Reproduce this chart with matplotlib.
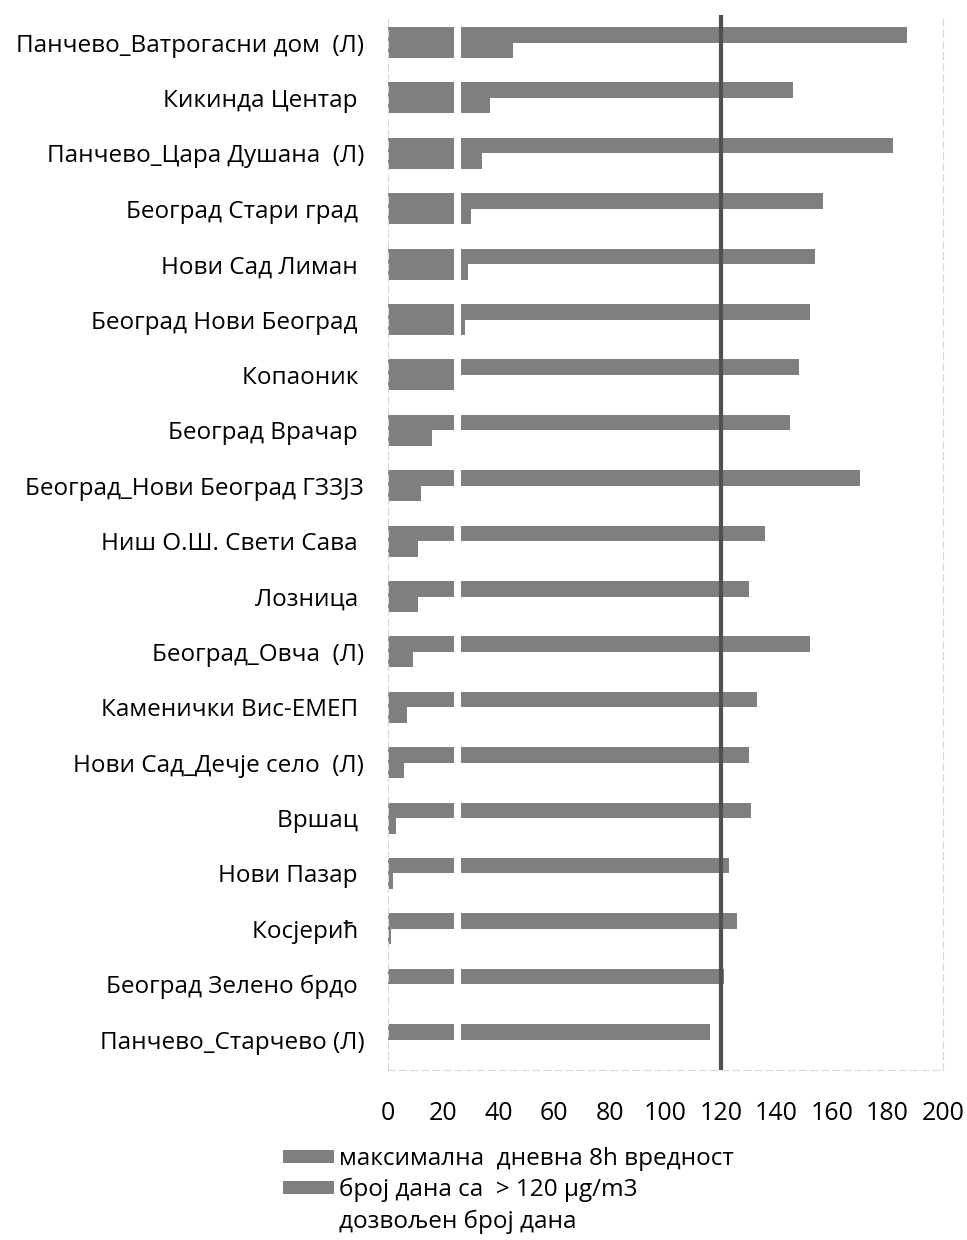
import numpy as np
import matplotlib.pyplot as plt
from matplotlib.lines import Line2D

stations = ['Панчево_Ватрогасни дом  (Л)', 'Кикинда Центар ', 'Панчево_Цара Душана  (Л)',
            'Београд Стари град ', 'Нови Сад Лиман ', 'Београд Нови Београд ',
            'Копаоник ', 'Београд Врачар ', 'Београд_Нови Београд ГЗЗЈЗ',
            'Ниш О.Ш. Свети Сава ', 'Лозница ', 'Београд_Овча  (Л)',
            'Каменички Вис-ЕМЕП ', 'Нови Сад_Дечје село  (Л)', 'Вршац ',
            'Нови Пазар ', 'Косјерић ', 'Београд Зелено брдо ', 'Панчево_Старчево (Л)']
max_8h = [187, 146, 182, 157, 154, 152, 148, 145, 170, 136, 130, 152, 133, 130, 131, 123, 126, 121, 116]
days_over = [45, 37, 34, 30, 29, 28, 25, 16, 12, 11, 11, 9, 7, 6, 3, 2, 1, 0, 0]
limit_value = 120
allowed_days = 25
xticks = list(range(0, 201, 20))

plt.rcParams['font.family'] = ['Open Sans', 'DejaVu Sans']

fig = plt.figure(figsize=(9.67, 12.4), dpi=100)
ax = fig.add_axes([0.401, 0.137, 0.574, 0.851])

y = np.arange(len(stations))
h = 0.28
ax.barh(y - h / 2, max_8h, height=h, color='#7f7f7f', edgecolor='none',
        label='максимална  дневна 8h вредност')
ax.barh(y + h / 2, days_over, height=h, color='#7f7f7f', edgecolor='none',
        label='број дана са  > 120 µg/m3')
ax.axvline(allowed_days, color='white', lw=5, zorder=3)
ax.axvline(limit_value, color='#505050', lw=3, zorder=4)

ax.set_ylim(len(stations) - 0.45, -0.5)
ax.set_xlim(0, 200)
ax.set_yticks(y)
ax.set_yticklabels(stations, fontsize=17.5)
ax.set_xticks(xticks)
ax.tick_params(axis='x', labelsize=18, length=0, pad=22)
ax.tick_params(axis='y', length=0, pad=17)

for s in ['left', 'right', 'bottom']:
    ax.spines[s].set_color('#d8d8d8')
    ax.spines[s].set_linestyle((0, (6, 4)))
    ax.spines[s].set_linewidth(0.8)
ax.spines['top'].set_visible(False)

handles, labels = ax.get_legend_handles_labels()
handles.append(Line2D([], [], color='white', lw=5))
labels.append('дозвољен број дана')
fig.legend(handles, labels, loc='upper left', bbox_to_anchor=(0.283, 0.083),
           frameon=False, fontsize=17.5, handlelength=2.1, handleheight=0.45,
           handletextpad=0.2, labelspacing=0.3, borderaxespad=0)

plt.savefig('out.png')
